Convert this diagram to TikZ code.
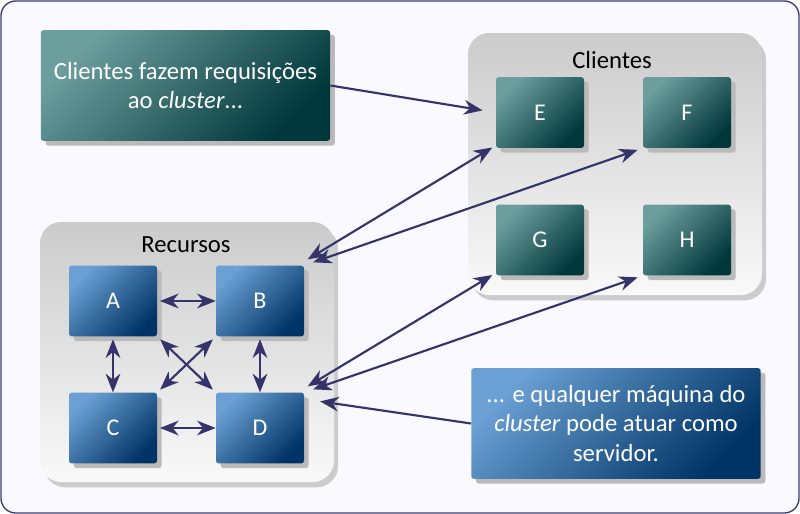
\documentclass[tikz,border=0pt]{standalone}
\usepackage{fontspec}
\setmainfont{Carlito}
\usetikzlibrary{shadows}
\usetikzlibrary{calc}
\usetikzlibrary{arrows.meta}

\definecolor{framedraw}{HTML}{3C3C6E}
\definecolor{framefill}{HTML}{F9F9FF}
\definecolor{tealtop}{HTML}{6C9E9E}
\definecolor{tealbot}{HTML}{00373A}
\definecolor{bluetop}{HTML}{6AA0D3}
\definecolor{bluebot}{HTML}{003366}
\definecolor{arrowcol}{HTML}{34346B}
\definecolor{grouptop}{HTML}{CBCBCB}
\definecolor{groupbot}{HTML}{F9F9F9}

\tikzset{
  machine/.style={rounded corners=2pt, minimum width=66pt, minimum height=53pt, inner sep=0pt,
    text=white, font=\fontsize{18}{21}\selectfont,
    drop shadow={shadow xshift=3.5pt, shadow yshift=-3.5pt, fill=black!27, opacity=1}},
  tealbox/.style={top color=tealtop, bottom color=tealbot, shading angle=45},
  bluebox/.style={top color=bluetop, bottom color=bluebot, shading angle=45},
  note/.style={rounded corners=2pt, minimum width=217pt, minimum height=83pt, align=center,
    text=white, font=\fontsize{18.5}{22}\selectfont,
    drop shadow={shadow xshift=3.5pt, shadow yshift=-3.5pt, fill=black!27, opacity=1}},
  group/.style={rounded corners=16pt, top color=grouptop, bottom color=groupbot, minimum width=220.5pt,
    drop shadow={shadow xshift=3pt, shadow yshift=-4pt, fill=black!20, opacity=1}},
  grouptitle/.style={font=\fontsize{18.5}{22}\selectfont, text=black},
  link/.style={arrowcol, line width=1.6pt, >={Stealth[length=14pt,width=11pt,inset=4.5pt]}, <->,
    shorten <=3pt, shorten >=3pt},
  push/.style={arrowcol, line width=1.6pt, >={Stealth[length=14pt,width=11pt,inset=4.5pt]}, ->}
}

\begin{document}
\begin{tikzpicture}[x=0.75pt, y=-0.75pt]
\useasboundingbox (0,0) rectangle (800,514);
\draw[framedraw, fill=framefill, line width=1pt, rounded corners=11pt] (1,1) rectangle (799,513);

% grupos
\node[group, minimum height=196.5pt] (clientes) at (615,164) {};
\node[grouptitle] (clientes title) at (612,60) {Clientes};
\node[group, minimum height=195pt] (recursos) at (187,352) {};
\node[grouptitle] (recursos title) at (186,245) {Recursos};

% maquinas
\foreach \name/\x/\y in {E/540/112.5, F/687/112.5, G/540/240, H/687/240}
  \node[machine, tealbox] (\name) at (\x,\y) {\name};
\foreach \name/\x/\y in {A/113/301, B/260/301, C/113/428, D/260/428}
  \node[machine, bluebox] (\name) at (\x,\y) {\name};

% textos
\node[note, tealbox] (req) at (185.5,85.5) {Clientes fazem requisições\\ao \textit{cluster}...};
\node[note, bluebox] (serv) at (616,423.5) {... e qualquer máquina do\\\textit{cluster} pode atuar como\\servidor.};

% ligacoes
\foreach \a/\b in {A/B, C/D}
  \draw[link, shorten <=2pt, shorten >=0pt] (\a.east) -- (\b.west);
\foreach \a/\b in {A/C, B/D}
  \draw[link, shorten <=2pt, shorten >=0pt] (\a.south) -- (\b.north);
\draw[link] (A.south east) -- (D.north west);
\draw[link] (B.south west) -- (C.north east);
\draw[link] ([yshift=3pt]B.north east) -- ([yshift=2pt]E.south west);
\draw[link, shorten <=7pt, shorten >=4pt] (B.north east) -- (F.south west);
\draw[link] ([yshift=3pt]D.north east) -- ([yshift=2pt]G.south west);
\draw[link, shorten <=7pt, shorten >=4pt] (D.north east) -- (H.south west);
\draw[push, shorten >=10pt] (req.east) -- (E.west);
\draw[push, shorten >=12pt] (serv.west) -- ([yshift=-5pt]D.north east);
\end{tikzpicture}
\end{document}
